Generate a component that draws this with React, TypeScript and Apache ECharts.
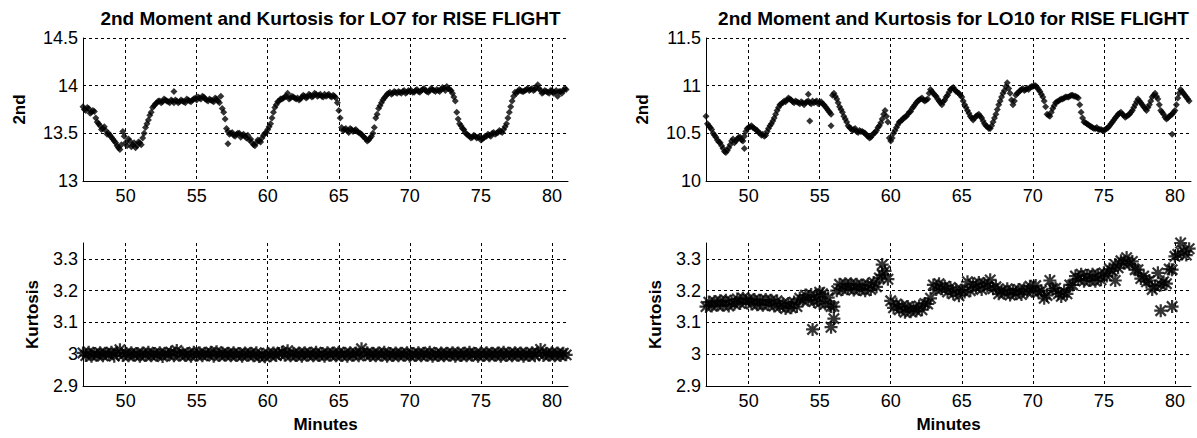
import React, { useEffect, useRef } from "react";
import * as echarts from "echarts";

// sampling grid of the recorded series (minutes)
const T_START = 47.0;
const T_STEP = 0.2;
const T_MID_START = 47.1; // interleaved samples between the main ones
const X_MIN = 47.0;
const X_MAX = 81.13;

const titles = [
  "2nd Moment and Kurtosis for LO7 for RISE FLIGHT",
  "2nd Moment and Kurtosis for LO10 for RISE FLIGHT",
];

const xTickLabels = [50, 55, 60, 65, 70, 75, 80];
const lo7SecondTicks = [13, 13.5, 14, 14.5];
const lo10SecondTicks = [10, 10.5, 11, 11.5];
const kurtTicks = [2.9, 3, 3.1, 3.2, 3.3];

// LO7 2nd moment, one value every 0.2 min from 47.0 to 81.0
const lo7Second = [
  13.78, 13.74, 13.76, 13.72, 13.73,
  13.62, 13.58, 13.55, 13.53, 13.50,
  13.46, 13.42, 13.37, 13.33, 13.52,
  13.40, 13.44, 13.36, 13.40, 13.37,
  13.40, 13.45, 13.56, 13.64, 13.72,
  13.79, 13.82, 13.84, 13.83, 13.85,
  13.83, 13.85, 13.82, 13.84, 13.83,
  13.84, 13.82, 13.85, 13.83, 13.86,
  13.85, 13.87, 13.89, 13.86, 13.84,
  13.85, 13.83, 13.86, 13.82, 13.76,
  13.65, 13.52, 13.50, 13.48, 13.49,
  13.50, 13.48, 13.47, 13.48, 13.44,
  13.38, 13.40, 13.42, 13.45, 13.50,
  13.54, 13.60, 13.72, 13.80, 13.84,
  13.86, 13.88, 13.92, 13.87, 13.88,
  13.86, 13.85, 13.88, 13.89, 13.88,
  13.90, 13.89, 13.91, 13.90, 13.89,
  13.91, 13.90, 13.89, 13.90, 13.87,
  13.74, 13.56, 13.54, 13.53, 13.55,
  13.52, 13.54, 13.51, 13.49, 13.46,
  13.42, 13.45, 13.50, 13.66, 13.76,
  13.82, 13.87, 13.91, 13.93, 13.92,
  13.93, 13.94, 13.92, 13.95, 13.93,
  13.94, 13.93, 13.95, 13.94, 13.95,
  13.97, 13.94, 13.95, 13.96, 13.94,
  13.95, 13.96, 13.97, 13.99, 13.96,
  13.92, 13.84, 13.65, 13.58, 13.54,
  13.49, 13.47, 13.46, 13.47, 13.46,
  13.43, 13.45, 13.47, 13.48, 13.50,
  13.49, 13.51, 13.52, 13.54, 13.60,
  13.72, 13.84, 13.93, 13.94, 13.95,
  13.94, 13.96, 13.95, 13.97, 13.96,
  14.01, 13.95, 13.93, 13.94, 13.92,
  13.95, 13.93, 13.89, 13.94, 13.95,
  13.96,
];
// LO7 2nd moment, samples at 47.1, 47.3, ... 80.9
const lo7SecondMid = [
  13.75, 13.77, 13.71, 13.74, 13.66,
  13.60, 13.54, 13.57, 13.49, 13.48,
  13.44, 13.40, 13.35, 13.38, 13.47,
  13.37, 13.42, 13.38, 13.35, 13.41,
  13.38, 13.50, 13.60, 13.69, 13.77,
  13.81, 13.84, 13.82, 13.86, 13.84,
  13.82, 13.84, 13.85, 13.82, 13.85,
  13.83, 13.86, 13.84, 13.85, 13.87,
  13.88, 13.86, 13.88, 13.85, 13.86,
  13.84, 13.87, 13.84, 13.89, 13.72,
  13.55, 13.49, 13.51, 13.47, 13.50,
  13.46, 13.49, 13.45, 13.43, 13.40,
  13.37, 13.43, 13.41, 13.48, 13.51,
  13.57, 13.66, 13.77, 13.83, 13.86,
  13.87, 13.89, 13.86, 13.89, 13.87,
  13.87, 13.86, 13.90, 13.87, 13.91,
  13.88, 13.92, 13.89, 13.91, 13.88,
  13.89, 13.91, 13.88, 13.89, 13.82,
  13.66, 13.53, 13.55, 13.51, 13.54,
  13.53, 13.52, 13.50, 13.47, 13.44,
  13.43, 13.47, 13.56, 13.70, 13.79,
  13.85, 13.89, 13.92, 13.91, 13.94,
  13.92, 13.93, 13.94, 13.92, 13.95,
  13.95, 13.93, 13.96, 13.93, 13.96,
  13.95, 13.93, 13.97, 13.95, 13.96,
  13.94, 13.98, 13.95, 13.97, 13.95,
  13.88, 13.72, 13.60, 13.55, 13.51,
  13.48, 13.45, 13.48, 13.45, 13.47,
  13.44, 13.47, 13.49, 13.47, 13.51,
  13.50, 13.53, 13.51, 13.57, 13.66,
  13.78, 13.89, 13.92, 13.96, 13.94,
  13.95, 13.97, 13.96, 13.95, 13.98,
  13.97, 13.92, 13.95, 13.93, 13.95,
  13.92, 13.95, 13.94, 13.92, 13.97,
];
const lo7SecondExtra = [
  [53.4, 13.94],
  [57.2, 13.39],
];

// LO10 2nd moment
const lo10Second = [
  10.68, 10.58, 10.54, 10.48, 10.43,
  10.40, 10.34, 10.30, 10.35, 10.42,
  10.40, 10.44, 10.46, 10.42, 10.52,
  10.56, 10.58, 10.55, 10.53, 10.50,
  10.49, 10.48, 10.55, 10.60, 10.66,
  10.74, 10.80, 10.82, 10.83, 10.87,
  10.85, 10.82, 10.83, 10.81, 10.82,
  10.82, 10.84, 10.81, 10.82, 10.84,
  10.82, 10.81, 10.78, 10.74, 10.70,
  10.92, 10.86, 10.78, 10.72, 10.65,
  10.58, 10.55, 10.54, 10.52, 10.53,
  10.52, 10.50, 10.47, 10.46, 10.50,
  10.53, 10.58, 10.65, 10.74, 10.62,
  10.42, 10.50, 10.56, 10.62, 10.64,
  10.67, 10.70, 10.73, 10.78, 10.82,
  10.85, 10.87, 10.84, 10.86, 10.96,
  10.92, 10.89, 10.84, 10.80, 10.85,
  10.90, 10.96, 10.98, 10.94, 10.92,
  10.88, 10.80, 10.74, 10.68, 10.64,
  10.68, 10.70, 10.66, 10.60, 10.57,
  10.55, 10.62, 10.70, 10.80, 10.88,
  10.95, 11.03, 10.92, 10.80, 10.90,
  10.93, 10.96, 10.95, 10.97, 10.98,
  10.99, 11.00, 10.96, 10.91, 10.84,
  10.70, 10.68, 10.76, 10.82, 10.84,
  10.86, 10.87, 10.88, 10.89, 10.90,
  10.89, 10.87, 10.72, 10.62, 10.60,
  10.58, 10.56, 10.55, 10.54, 10.54,
  10.53, 10.55, 10.58, 10.62, 10.66,
  10.70, 10.72, 10.69, 10.68, 10.70,
  10.74, 10.80, 10.86, 10.82, 10.78,
  10.74, 10.80, 10.88, 10.92, 10.86,
  10.74, 10.70, 10.65, 10.68, 10.70,
  10.74, 10.87, 10.96, 10.92, 10.88,
  10.84,
];
const lo10SecondMid = [
  10.60, 10.56, 10.50, 10.46, 10.41,
  10.37, 10.31, 10.32, 10.38, 10.44,
  10.42, 10.46, 10.43, 10.47, 10.55,
  10.57, 10.56, 10.54, 10.51, 10.48,
  10.47, 10.52, 10.58, 10.63, 10.70,
  10.77, 10.81, 10.84, 10.85, 10.86,
  10.83, 10.84, 10.82, 10.83, 10.80,
  10.83, 10.82, 10.84, 10.83, 10.81,
  10.83, 10.80, 10.76, 10.72, 10.90,
  10.89, 10.82, 10.75, 10.68, 10.62,
  10.56, 10.53, 10.55, 10.51, 10.52,
  10.51, 10.48, 10.45, 10.48, 10.51,
  10.56, 10.61, 10.70, 10.68, 10.45,
  10.45, 10.53, 10.59, 10.63, 10.66,
  10.68, 10.72, 10.76, 10.80, 10.84,
  10.86, 10.85, 10.85, 10.92, 10.94,
  10.90, 10.86, 10.82, 10.83, 10.88,
  10.93, 10.97, 10.96, 10.93, 10.90,
  10.84, 10.77, 10.71, 10.66, 10.66,
  10.69, 10.68, 10.63, 10.58, 10.55,
  10.58, 10.66, 10.75, 10.84, 10.92,
  10.99, 10.97, 10.85, 10.84, 10.92,
  10.95, 10.97, 10.96, 10.96, 10.99,
  11.00, 10.98, 10.94, 10.88, 10.78,
  10.69, 10.72, 10.79, 10.83, 10.85,
  10.86, 10.88, 10.88, 10.90, 10.89,
  10.88, 10.80, 10.66, 10.61, 10.59,
  10.57, 10.55, 10.56, 10.54, 10.53,
  10.54, 10.56, 10.60, 10.64, 10.68,
  10.71, 10.70, 10.67, 10.69, 10.72,
  10.77, 10.83, 10.84, 10.80, 10.76,
  10.77, 10.84, 10.90, 10.89, 10.80,
  10.72, 10.67, 10.66, 10.69, 10.72,
  10.80, 10.92, 10.94, 10.90, 10.86,
];
const lo10SecondExtra = [
  [49.7, 10.34],
  [54.2, 10.91],
  [54.3, 10.63],
  [55.8, 10.58],
  [79.8, 10.49],
];

// LO7 kurtosis
const lo7Kurt = [
  3.004, 2.996, 3.006, 2.994, 3.002,
  2.997, 3.005, 2.995, 3.003, 2.998,
  3.006, 2.994, 3.004, 3.014, 2.996,
  3.003, 2.995, 3.005, 2.997, 3.002,
  2.994, 3.004, 2.996, 3.006, 2.995,
  3.002, 2.997, 3.005, 2.993, 3.003,
  2.998, 3.006, 2.995, 3.012, 2.997,
  3.004, 2.996, 3.002, 2.994, 3.006,
  2.997, 3.005, 2.995, 3.003, 2.998,
  3.006, 2.994, 3.008, 2.996, 3.004,
  2.997, 3.003, 2.995, 3.005, 2.996,
  3.002, 2.994, 3.004, 2.997, 3.003,
  2.995, 3.005, 2.993, 2.999, 2.992,
  3.003, 2.995, 3.004, 2.996, 3.002,
  3.006, 2.997, 3.011, 2.995, 3.003,
  2.996, 3.004, 2.994, 3.005, 2.997,
  3.003, 2.995, 3.006, 2.996, 3.002,
  2.994, 3.005, 2.997, 3.004, 2.995,
  3.006, 2.996, 3.003, 2.994, 3.005,
  2.997, 3.004, 2.995, 3.017, 2.998,
  3.005, 2.996, 3.003, 2.995, 3.004,
  2.997, 3.006, 2.994, 3.002, 2.996,
  3.004, 2.995, 3.003, 2.997, 3.005,
  2.994, 3.002, 2.996, 3.005, 2.995,
  3.003, 2.997, 3.006, 2.994, 3.002,
  2.996, 3.004, 2.995, 3.003, 2.997,
  3.005, 2.994, 3.004, 2.996, 3.003,
  2.995, 3.006, 2.997, 3.002, 2.994,
  3.004, 2.996, 3.005, 2.995, 3.003,
  2.997, 3.004, 2.994, 3.006, 2.996,
  3.003, 2.995, 3.005, 2.997, 3.004,
  2.994, 3.003, 2.996, 3.005, 2.995,
  3.004, 3.015, 2.996, 3.003, 2.997,
  3.005, 2.995, 3.004, 2.996, 3.003,
  2.998,
];

// LO10 kurtosis
const lo10Kurt = [
  3.150, 3.164, 3.152, 3.166, 3.154,
  3.168, 3.154, 3.170, 3.152, 3.166,
  3.158, 3.174, 3.160, 3.176, 3.164,
  3.174, 3.158, 3.172, 3.156, 3.170,
  3.154, 3.172, 3.156, 3.170, 3.152,
  3.168, 3.150, 3.160, 3.144, 3.160,
  3.146, 3.164, 3.150, 3.176, 3.170,
  3.186, 3.170, 3.188, 3.166, 3.180,
  3.160, 3.190, 3.158, 3.178, 3.150,
  3.150, 3.200, 3.220, 3.204, 3.222,
  3.206, 3.222, 3.202, 3.220, 3.204,
  3.218, 3.200, 3.220, 3.204, 3.226,
  3.212, 3.240, 3.250, 3.262, 3.236,
  3.168, 3.146, 3.158, 3.140, 3.152,
  3.132, 3.150, 3.134, 3.146, 3.136,
  3.152, 3.140, 3.160, 3.158, 3.176,
  3.218, 3.204, 3.222, 3.206, 3.214,
  3.196, 3.210, 3.190, 3.204, 3.184,
  3.202, 3.196, 3.228, 3.200, 3.220,
  3.210, 3.226, 3.204, 3.222, 3.214,
  3.234, 3.206, 3.212, 3.190, 3.200,
  3.192, 3.206, 3.186, 3.200, 3.190,
  3.204, 3.188, 3.206, 3.196, 3.214,
  3.198, 3.216, 3.196, 3.200, 3.176,
  3.185, 3.232, 3.206, 3.208, 3.190,
  3.182, 3.196, 3.190, 3.218, 3.218,
  3.246, 3.236, 3.252, 3.230, 3.248,
  3.232, 3.252, 3.230, 3.250, 3.234,
  3.256, 3.246, 3.268, 3.262, 3.282,
  3.272, 3.294, 3.286, 3.304, 3.284,
  3.292, 3.266, 3.266, 3.238, 3.246,
  3.228, 3.232, 3.204, 3.214, 3.256,
  3.218, 3.228, 3.222, 3.268, 3.266,
  3.308, 3.314, 3.350, 3.324, 3.312,
  3.332,
];
const lo10KurtExtra = [
  [54.5, 3.078],
  [55.0, 3.195],
  [55.8, 3.085],
  [56.0, 3.112],
  [59.4, 3.282],
  [75.8, 3.232],
  [79.0, 3.137],
  [79.8, 3.150],
];

const FONT = "'Liberation Sans', Arial, Helvetica, sans-serif";
const ASTERISK =
  "path://M0 8.3L20 8.3L20 11.7L0 11.7Z M8.3 0L11.7 0L11.7 20L8.3 20Z M3.2 0.8L19.2 16.8L16.8 19.2L0.8 3.2Z M16.8 0.8L19.2 3.2L3.2 19.2L0.8 16.8Z";

const toPoints = (vals: number[], start: number) =>
  vals.map((v, i) => [Number((start + i * T_STEP).toFixed(2)), v]);

const labelFor = (ticks: number[]) => (v: number) =>
  ticks.some((t) => Math.abs(t - v) < 1e-6) ? String(Number(v.toFixed(2))) : "";

const GRID_W = 485;
const GRID_H = 143;
const LEFTS = [83, 706];
const TOPS = [38, 243];

export default function App() {
  const ref = useRef<HTMLDivElement>(null);

  useEffect(() => {
    if (!ref.current) return;
    const chart = echarts.init(ref.current, undefined, { renderer: "svg" });

    const grids: any[] = [];
    const xAxes: any[] = [];
    const yAxes: any[] = [];
    const panels = [
      { col: 0, row: 0, yMin: 13, yMax: 14.5, interval: 0.5, ticks: lo7SecondTicks, name: "2nd", gap: 55 },
      { col: 1, row: 0, yMin: 10, yMax: 11.5, interval: 0.5, ticks: lo10SecondTicks, name: "2nd", gap: 55 },
      { col: 0, row: 1, yMin: 2.9, yMax: 3.35, interval: 0.1, ticks: kurtTicks, name: "Kurtosis", gap: 42 },
      { col: 1, row: 1, yMin: 2.9, yMax: 3.35, interval: 0.1, ticks: kurtTicks, name: "Kurtosis", gap: 42 },
    ];
    const dash = { color: "#000", width: 1, type: [3, 3] };
    panels.forEach((p, i) => {
      grids.push({
        left: LEFTS[p.col],
        top: TOPS[p.row],
        width: GRID_W,
        height: GRID_H,
        containLabel: false,
        outerBoundsMode: "none",
      });
      xAxes.push({
        type: "value",
        gridIndex: i,
        min: X_MIN,
        max: X_MAX,
        splitNumber: 7,
        name: p.row === 1 ? "Minutes" : "",
        nameLocation: "middle",
        nameGap: 30,
        nameTextStyle: { fontFamily: FONT, fontSize: 17, fontWeight: "bold", color: "#000" },
        axisLine: { show: true, onZero: false, lineStyle: { color: "#000", width: 1 } },
        axisTick: { show: false },
        axisLabel: {
          formatter: labelFor(xTickLabels),
          fontFamily: FONT,
          fontSize: 18,
          color: "#000",
          margin: 6,
        },
        splitLine: { show: true, showMinLine: false, showMaxLine: false, lineStyle: dash },
      });
      yAxes.push({
        type: "value",
        gridIndex: i,
        min: p.yMin,
        max: p.yMax,
        interval: p.interval,
        name: p.name,
        nameLocation: "middle",
        nameGap: p.gap,
        nameTextStyle: { fontFamily: FONT, fontSize: 17, fontWeight: "bold", color: "#000" },
        axisLine: { show: true, onZero: false, lineStyle: { color: "#000", width: 1 } },
        axisTick: { show: false },
        axisLabel: {
          formatter: labelFor(p.ticks),
          fontFamily: FONT,
          fontSize: 18,
          color: "#000",
          margin: 5,
        },
        splitLine: {
          show: true,
          showMinLine: p.row === 1,
          showMaxLine: p.row === 0,
          lineStyle: dash,
        },
      });
    });

    const dot = { color: "#000" };
    chart.setOption({
      animation: false,
      backgroundColor: "#fff",
      title: titles.map((t, c) => ({
        text: t,
        left: LEFTS[c] + GRID_W / 2,
        textAlign: "center",
        top: 4,
        textStyle: { fontFamily: FONT, fontSize: 19, fontWeight: "bold", color: "#000" },
      })),
      grid: grids,
      xAxis: xAxes,
      yAxis: yAxes,
      series: [
        {
          type: "scatter",
          xAxisIndex: 0,
          yAxisIndex: 0,
          symbol: "diamond",
          symbolSize: 7,
          itemStyle: dot,
          silent: true,
          data: [
            ...toPoints(lo7Second, T_START),
            ...toPoints(lo7SecondMid, T_MID_START),
            ...lo7SecondExtra,
          ],
        },
        {
          type: "scatter",
          xAxisIndex: 1,
          yAxisIndex: 1,
          symbol: "diamond",
          symbolSize: 7,
          itemStyle: dot,
          silent: true,
          data: [
            ...toPoints(lo10Second, T_START),
            ...toPoints(lo10SecondMid, T_MID_START),
            ...lo10SecondExtra,
          ],
        },
        {
          type: "scatter",
          xAxisIndex: 2,
          yAxisIndex: 2,
          symbol: ASTERISK,
          symbolSize: 13,
          itemStyle: dot,
          silent: true,
          data: toPoints(lo7Kurt, T_START),
        },
        {
          type: "scatter",
          xAxisIndex: 3,
          yAxisIndex: 3,
          symbol: ASTERISK,
          symbolSize: 13,
          itemStyle: dot,
          silent: true,
          data: [...toPoints(lo10Kurt, T_START), ...lo10KurtExtra],
        },
      ],
    });
    return () => chart.dispose();
  }, []);

  return (
    <div
      ref={ref}
      style={{ position: "fixed", left: 0, top: 0, width: 1197, height: 438, background: "#fff" }}
    />
  );
}
